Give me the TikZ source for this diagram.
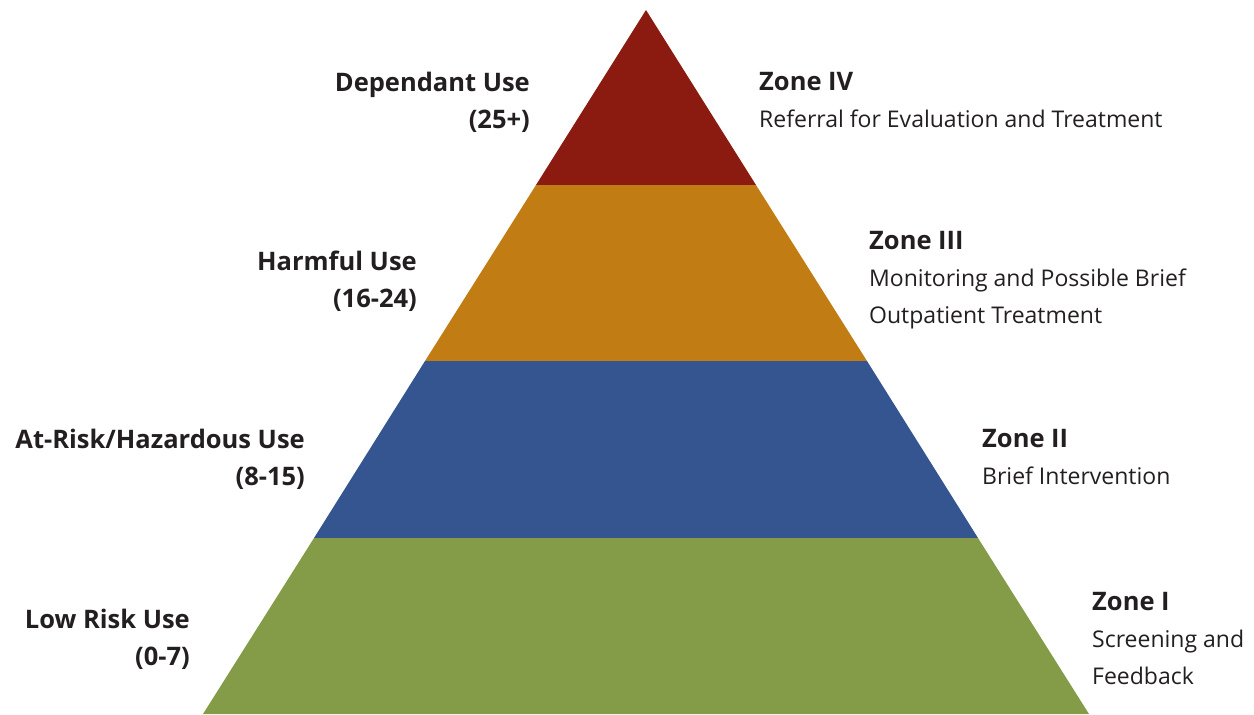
\documentclass[tikz,border=0pt]{standalone}
\usepackage{fontspec}
\setmainfont{Open Sans}
\definecolor{dependred}{HTML}{8B1A10}
\definecolor{harmorange}{HTML}{C27C14}
\definecolor{riskblue}{HTML}{34558F}
\definecolor{lowgreen}{HTML}{849B48}
\definecolor{labelgray}{HTML}{231F20}
\newcommand{\zonehead}[1]{{\fontsize{25.5}{37}\selectfont\bfseries #1}}
\tikzset{
    usebox/.style={font=\fontsize{25.5}{37}\selectfont\bfseries, text=labelgray,
        inner sep=0pt, align=right, anchor=north east},
    zonebox/.style={font=\fontsize{23}{37}\selectfont, text=labelgray,
        inner sep=0pt, align=left, anchor=north west}
}
\begin{document}
\begin{tikzpicture}[x=1pt,y=-1pt]
            \useasboundingbox (0,0) rectangle (1254,715);
            % pyramid corners
            \coordinate (apex) at (646,10);
            \coordinate (l1) at (536,185);
            \coordinate (r1) at (756,185);
            \coordinate (l2) at (425,361);
            \coordinate (r2) at (867,361);
            \coordinate (l3) at (314,538);
            \coordinate (r3) at (978,538);
            \coordinate (l4) at (203,714);
            \coordinate (r4) at (1089,714);

            \fill[dependred] (apex) -- (r1) -- (l1) -- cycle;
            \fill[harmorange] (l1) -- (r1) -- (r2) -- (l2) -- cycle;
            \fill[riskblue] (l2) -- (r2) -- (r3) -- (l3) -- cycle;
            \fill[lowgreen] (l3) -- (r3) -- (r4) -- (l4) -- cycle;

            % scores on the left
            \node[usebox] (dependant) at (530,72) {Dependant Use\\(25+)};
            \node[usebox] (harmful) at (417,251) {Harmful Use\\(16-24)};
            \node[usebox] (atrisk) at (305,429) {At-Risk/Hazardous Use\\(8-15)};
            \node[usebox] (lowrisk) at (190,609) {Low Risk Use\\(0-7)};

            % zones on the right
            \node[zonebox] (zonefour) at (759,72)
                {\zonehead{Zone IV}\\Referral for Evaluation and Treatment};
            \node[zonebox] (zonethree) at (869,231)
                {\zonehead{Zone III}\\Monitoring and Possible Brief\\Outpatient Treatment};
            \node[zonebox] (zonetwo) at (982,429)
                {\zonehead{Zone II}\\Brief Intervention};
            \node[zonebox] (zoneone) at (1092,592)
                {\zonehead{Zone I}\\Screening and\\Feedback};
        \end{tikzpicture}
\end{document}
